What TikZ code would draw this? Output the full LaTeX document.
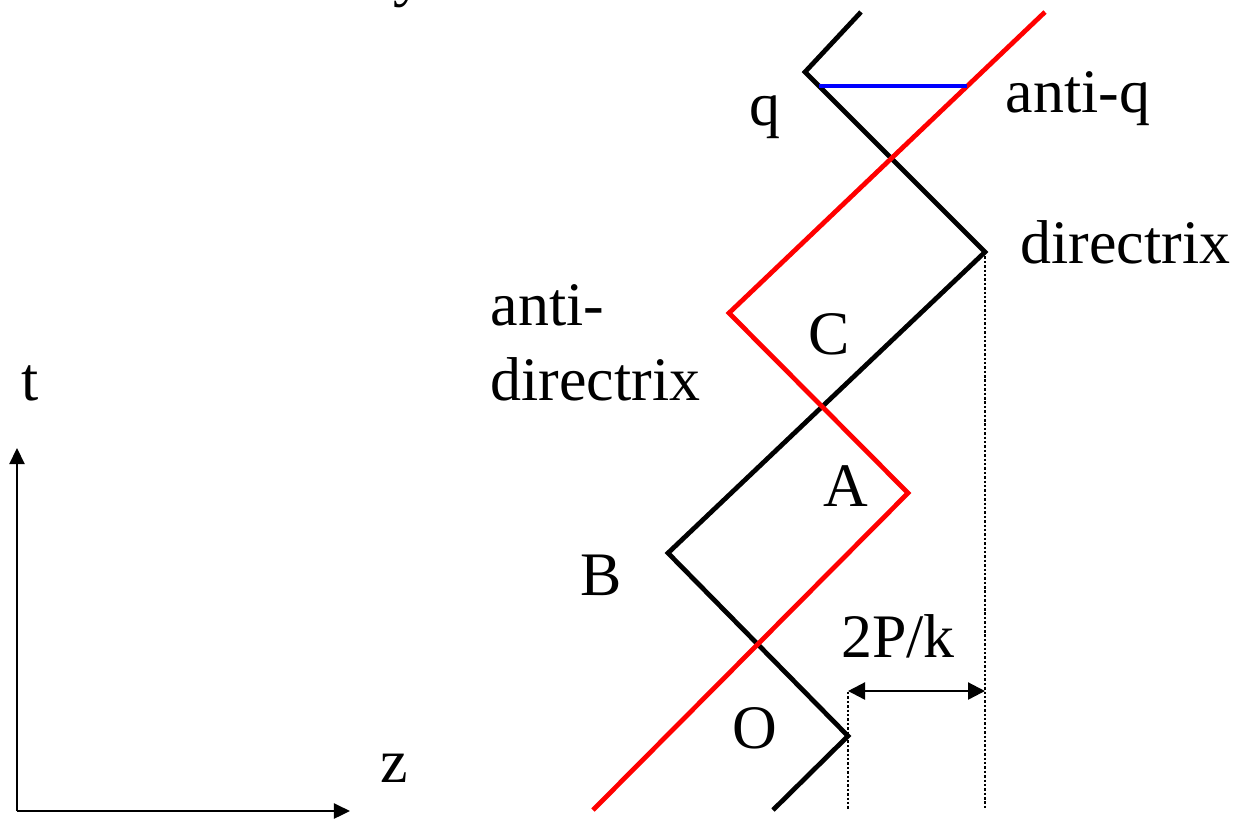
\documentclass[tikz,border=0pt]{standalone}
\usepackage{fontspec}
\setmainfont{Liberation Serif}
\usetikzlibrary{arrows.meta}
\definecolor{pred}{RGB}{255,0,0}
\definecolor{pblue}{RGB}{0,0,255}
\tikzset{
  lbl/.style={inner sep=0pt, anchor=base, font=\fontsize{17.6}{21}\selectfont},
  lblw/.style={lbl, anchor=base west},
  world/.style={line width=1.35pt, line cap=butt, line join=miter},
  axis/.style={line width=0.65pt, -{Triangle[length=0.16cm,width=0.15cm]}},
  dotline/.style={line width=0.75pt, dash pattern=on 0.7pt off 0.55pt},
  dim/.style={line width=0.65pt, {Triangle[length=0.17cm,width=0.17cm]}-{Triangle[length=0.17cm,width=0.17cm]}}
}
\begin{document}
\begin{tikzpicture}[x={(0.01cm,0)}, y={(0,-0.01cm)}]
\useasboundingbox (0,0) rectangle (1239,820);
% axes
\coordinate (orig) at (17,811);
\coordinate (ttip) at (17,448);
\coordinate (ztip) at (350,811);
\draw[axis] (orig) -- (ttip);
\draw[axis] (orig) -- (ztip);
\node[lbl] (tl) at (30,400) {t};
\node[lbl] (zl) at (394,782) {z};
% cut-off label at top
\node[lblw] (yl) at (393,-5.5) {y};
% black world line
\coordinate (b0) at (773,810);
\coordinate (b1) at (848,736);
\coordinate (b2) at (668,553);
\coordinate (b3) at (985,252);
\coordinate (b4) at (805,72);
\coordinate (b5) at (861,12);
% red world line
\coordinate (r0) at (593,810);
\coordinate (r1) at (908,493);
\coordinate (r2) at (729,313);
\coordinate (r3) at (1045,12);
% dotted lines
\coordinate (d1top) at (848,692);
\coordinate (d1bot) at (848,810);
\coordinate (d2top) at (985,252);
\coordinate (d2bot) at (985,810);
\draw[dotline] (d1top) -- (d1bot);
\draw[dotline] (d2top) -- (d2bot);
\coordinate (a1) at (848,691);
\coordinate (a2) at (985,691);
\draw[dim] (a1) -- (a2);
\draw[world, black] (b0) -- (b1) -- (b2) -- (b3) -- (b4) -- (b5);
\draw[world, pred] (r0) -- (r1) -- (r2) -- (r3);
% blue string
\coordinate (s1) at (819,86);
\coordinate (s2) at (967,86);
\draw[world, pblue, line width=1.25pt] (s1) -- (s2);
% labels
\node[lbl] (ql) at (765,125) {q};
\node[lblw] (aql) at (1005,112) {anti-q};
\node[lblw] (dl) at (1020,263) {directrix};
\node[lblw] (adl1) at (490,325) {anti-};
\node[lblw] (adl2) at (490,400) {directrix};
\node[lbl] (cl) at (829,354) {C};
\node[lbl] (al) at (846,506) {A};
\node[lbl] (bl) at (601,595) {B};
\node[lbl] (pk) at (898,657) {2P/k};
\node[lbl] (ol) at (755,748) {O};
\end{tikzpicture}
\end{document}
